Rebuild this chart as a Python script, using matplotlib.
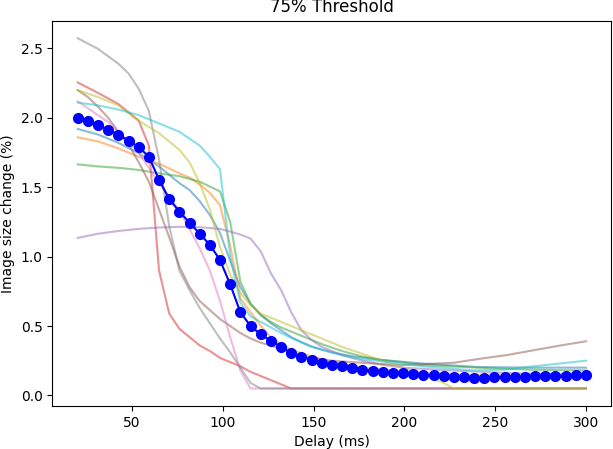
import numpy as np
import matplotlib
matplotlib.use("Agg")
import matplotlib.pyplot as plt

# delay grid of the averaged curve (ms)
delay = np.linspace(20, 300, 51)
mean_change = [2.00, 1.98, 1.95, 1.915, 1.88, 1.835, 1.79, 1.72, 1.555, 1.415,
               1.325, 1.245, 1.165, 1.085, 0.975, 0.80, 0.60, 0.50, 0.44, 0.395,
               0.35, 0.307, 0.28, 0.256, 0.232, 0.218, 0.21, 0.199, 0.185, 0.177,
               0.17, 0.163, 0.158, 0.153, 0.148, 0.145, 0.14, 0.135, 0.13, 0.128,
               0.128, 0.13, 0.132, 0.133, 0.135, 0.137, 0.138, 0.14, 0.143, 0.145,
               0.147]

# individual runs
run_x = [
    [20, 31.2, 42.4, 53.6, 64.8, 76, 81.6, 87.2, 92.8, 98.4, 104, 109.6, 115.2, 120.8,
     126.4, 132, 137.6, 148.8, 160, 171.2, 188, 210, 240, 270, 300],
    [20, 31.2, 42.4, 53.6, 64.8, 76, 81.6, 87.2, 92.8, 98.4, 104, 109.6, 115.2, 120.8,
     126.4, 132, 137.6, 148.8, 160, 176.8, 199.2, 230, 260, 300],
    [20, 31.2, 42.4, 53.6, 64.8, 76, 87.2, 98.4, 104, 109.6, 115.2, 120.8, 126.4, 132,
     143.2, 154.4, 165.6, 176.8, 188, 210, 240, 270, 300],
    [20, 31.2, 42.4, 53.6, 59.2, 64.8, 70.4, 76, 81.6, 87.2, 92.8, 98.4, 104, 109.6,
     115.2, 120.8, 126.4, 132, 137.6, 300],
    [20, 31.2, 42.4, 53.6, 64.8, 76, 87.2, 98.4, 104, 109.6, 115.2, 120.8, 126.4, 132,
     137.6, 143.2, 148.8, 154.4, 165.6, 176.8, 188, 199.2, 225, 260, 300],
    [20, 25.6, 31.2, 36.8, 42.4, 48, 53.6, 59.2, 64.8, 70.4, 76, 81.6, 87.2, 92.8, 98.4,
     104, 109.6, 115.2, 120.8, 126.4, 132, 143.2, 160, 176.8, 198, 210, 227, 242, 256,
     271, 286, 300],
    [20, 25.6, 36.8, 48, 53.6, 59.2, 64.8, 70.4, 76, 81.6, 87.2, 92.8, 98.4, 104, 109.6,
     115.2, 300],
    [20, 31.2, 42.4, 48, 53.6, 59.2, 64.8, 70.4, 76, 81.6, 87.2, 92.8, 98.4, 104, 109.6,
     115.2, 120.8, 300],
    [20, 31.2, 42.4, 53.6, 64.8, 76, 81.6, 87.2, 92.8, 98.4, 104, 109.6, 115.2, 120.8,
     126.4, 132, 143.2, 154.4, 165.6, 176.8, 188, 199.2, 210.4, 221.6, 227.2, 300],
    [20, 31.2, 42.4, 53.6, 64.8, 76, 87.2, 92.8, 98.4, 104, 109.6, 115.2, 120.8, 126.4,
     132, 143.2, 154.4, 165.6, 176.8, 188, 210, 238, 256, 275, 300],
]
run_y = [
    [1.92, 1.88, 1.82, 1.745, 1.65, 1.53, 1.48, 1.40, 1.30, 1.17, 0.97, 0.78, 0.66, 0.58,
     0.52, 0.47, 0.42, 0.35, 0.31, 0.282, 0.255, 0.23, 0.205, 0.20, 0.20],
    [1.86, 1.83, 1.78, 1.72, 1.67, 1.60, 1.57, 1.52, 1.46, 1.37, 1.08, 0.70, 0.60, 0.50,
     0.42, 0.37, 0.33, 0.28, 0.24, 0.20, 0.17, 0.15, 0.14, 0.14],
    [1.665, 1.65, 1.64, 1.625, 1.60, 1.58, 1.54, 1.47, 1.25, 0.82, 0.66, 0.58, 0.53, 0.49,
     0.43, 0.37, 0.32, 0.28, 0.255, 0.22, 0.20, 0.185, 0.18],
    [2.255, 2.18, 2.10, 1.98, 1.80, 0.90, 0.59, 0.48, 0.42, 0.36, 0.32, 0.27, 0.24, 0.21,
     0.17, 0.14, 0.11, 0.08, 0.05, 0.05],
    [1.135, 1.165, 1.185, 1.20, 1.21, 1.215, 1.212, 1.20, 1.18, 1.16, 1.13, 1.04, 0.88,
     0.76, 0.60, 0.47, 0.40, 0.35, 0.29, 0.25, 0.22, 0.20, 0.18, 0.16, 0.15],
    [2.20, 2.15, 2.08, 2.00, 1.90, 1.81, 1.68, 1.54, 1.34, 1.14, 0.93, 0.78, 0.68, 0.615,
     0.55, 0.50, 0.45, 0.41, 0.38, 0.36, 0.335, 0.285, 0.25, 0.235, 0.218, 0.225, 0.235,
     0.265, 0.29, 0.325, 0.36, 0.39],
    [2.12, 2.07, 1.97, 1.83, 1.75, 1.64, 1.53, 1.43, 1.33, 1.20, 1.06, 0.90, 0.68, 0.42,
     0.18, 0.05, 0.05],
    [2.574, 2.497, 2.39, 2.32, 2.21, 2.05, 1.70, 1.22, 0.90, 0.76, 0.63, 0.52, 0.41, 0.31,
     0.20, 0.09, 0.05, 0.05],
    [2.20, 2.15, 2.09, 1.98, 1.89, 1.77, 1.68, 1.53, 1.34, 1.07, 0.87, 0.74, 0.65, 0.59,
     0.56, 0.53, 0.47, 0.41, 0.35, 0.30, 0.25, 0.20, 0.15, 0.09, 0.05, 0.05],
    [2.11, 2.09, 2.06, 2.02, 1.96, 1.90, 1.80, 1.72, 1.63, 1.00, 0.67, 0.57, 0.53, 0.49,
     0.45, 0.38, 0.33, 0.29, 0.26, 0.245, 0.21, 0.18, 0.187, 0.215, 0.25],
]

fig, ax = plt.subplots(figsize=(6.13, 4.49), dpi=100)
fig.subplots_adjust(left=0.0853, right=0.9974, top=0.9539, bottom=0.0958)

for xs, ys in zip(run_x, run_y):
    ax.plot(xs, ys, alpha=0.5)

ax.plot(delay, mean_change, "bo-", markersize=7)

ax.set_title("75% Threshold")
ax.set_xlabel("Delay (ms)")
ax.set_ylabel("Image size change (%)")

fig.savefig("out.png")
